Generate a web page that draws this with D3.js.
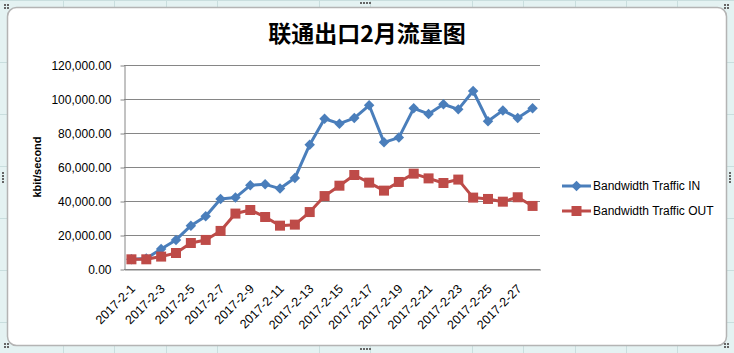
<!DOCTYPE html>
<html>
<head>
<meta charset="utf-8">
<script src="https://cdnjs.cloudflare.com/ajax/libs/d3/7.8.5/d3.min.js"></script>
<style>
  body { margin: 0; background: #e6f3f3; }
  text { font-family: "Liberation Sans", Arial, sans-serif; }
</style>
</head>
<body>
<div id="chart"></div>
<script>
var dates = d3.range(1, 29).map(d => "2017-2-" + d);

var trafficIn = [5800, 6200, 11800, 17100, 25500, 31000, 41200, 42000, 49200, 49800,
  47300, 53500, 73100, 88400, 85500, 88800, 96300, 74500, 77300, 94500,
  91200, 96900, 93900, 104700, 86900, 93300, 88800, 94500];

var trafficOut = [5700, 5700, 7300, 9400, 15300, 17100, 22400, 32600, 34700, 30600,
  25500, 26100, 33500, 42900, 49000, 55300, 50800, 46100, 51200, 56100,
  53300, 50600, 52600, 42000, 41200, 39600, 42200, 37100];

var yTicks = [0, 20000, 40000, 60000, 80000, 100000, 120000];

var seriesNames = ["Bandwidth Traffic IN", "Bandwidth Traffic OUT"];
var seriesColors = ["#4a7ebb", "#be4b48"];

var width = 734, height = 353;
var margin = {top: 65, right: 194, bottom: 84, left: 124};

var svg = d3.select("#chart").append("svg")
    .attr("width", width)
    .attr("height", height);

// spreadsheet background grid
var bg = svg.append("g");
bg.append("rect").attr("width", width).attr("height", height).attr("fill", "#e4f2f2");
[0, 62, 114, 166, 218, 270, 322, 374, 426, 478, 530, 582, 634, 686].forEach(y =>
  bg.append("line").attr("x1", 0).attr("x2", width).attr("y1", y + 0.5).attr("y2", y + 0.5)
    .attr("stroke", "#c9dede"));
[63, 114, 166, 217, 319, 370, 472, 523, 575, 626, 677].forEach(x =>
  bg.append("line").attr("y1", 0).attr("y2", height).attr("x1", x + 0.5).attr("x2", x + 0.5)
    .attr("stroke", "#c9dede"));

svg.append("rect")
    .attr("x", 7.5).attr("y", 7.5)
    .attr("width", 719).attr("height", 338)
    .attr("rx", 9)
    .attr("fill", "#fff")
    .attr("stroke", "#b4b4b4")
    .attr("stroke-width", 1.5);

// resize handles
[[4, 4], [724, 4], [4, 343], [724, 343]].forEach(p => {
  [[0, 0], [3, 0], [0, 3], [3, 3]].forEach(o =>
    svg.append("rect").attr("x", p[0] + o[0]).attr("y", p[1] + o[1])
      .attr("width", 2).attr("height", 2).attr("fill", "#666"));
});
[[360, 2], [360, 348], [2, 172], [729, 172]].forEach(p => {
  var horiz = p[1] < 10 || p[1] > 340;
  d3.range(4).forEach(i =>
    svg.append("rect")
      .attr("x", horiz ? p[0] + i * 3 : p[0])
      .attr("y", horiz ? p[1] : p[1] + i * 3)
      .attr("width", 2).attr("height", 2).attr("fill", "#666"));
});

var x = d3.scaleBand()
    .domain(dates)
    .range([margin.left, width - margin.right]);

var y = d3.scaleLinear()
    .domain([0, 120000])
    .range([height - margin.bottom, margin.top]);

// gridlines
svg.append("g")
  .selectAll("line")
  .data(yTicks)
  .join("line")
    .attr("x1", margin.left)
    .attr("x2", width - margin.right)
    .attr("y1", d => Math.round(y(d)) + 0.5)
    .attr("y2", d => Math.round(y(d)) + 0.5)
    .attr("stroke", "#868686");

var fmt = d3.format(",.2f");

var yAxis = svg.append("g")
    .attr("transform", `translate(${margin.left + 0.5},0.5)`)
    .call(d3.axisLeft(y).tickValues(yTicks).tickFormat(fmt).tickSizeInner(4).tickSizeOuter(0).tickPadding(9));
yAxis.select(".domain").attr("stroke", "#868686");
yAxis.selectAll(".tick line").attr("stroke", "#868686");
yAxis.selectAll("text").attr("font-size", 12).attr("fill", "#000")
    .style("font-family", "'Liberation Sans', Arial, sans-serif");

var xAxis = svg.append("g")
    .attr("transform", `translate(0.5,${height - margin.bottom + 0.5})`)
    .call(d3.axisBottom(x).tickValues(dates.filter((d, i) => i % 2 == 0)).tickSize(0).tickPadding(0));
xAxis.select(".domain").attr("stroke", "#868686");
xAxis.selectAll("text")
    .attr("font-size", 12.5)
    .attr("fill", "#000")
    .style("font-family", "'Liberation Sans', Arial, sans-serif")
    .style("text-anchor", "end")
    .attr("y", 0)
    .attr("dy", "0.35em")
    .attr("transform", "translate(1,17) rotate(-45)");

svg.append("text")
    .attr("transform", `translate(41,${(margin.top + height - margin.bottom) / 2}) rotate(-90)`)
    .attr("text-anchor", "middle")
    .attr("font-size", 11)
    .attr("font-weight", "bold")
    .text("kbit/second");

svg.append("text")
    .attr("x", 367)
    .attr("y", 42)
    .attr("text-anchor", "middle")
    .attr("font-size", 23)
    .attr("font-weight", "bold")
    .style("font-family", "'Noto Sans CJK SC', sans-serif")
    .text("联通出口2月流量图");

var cx = d => x(d) + x.bandwidth() / 2;
var line = d3.line().x((d, i) => cx(dates[i])).y(d => y(d));

var diamond = d3.symbol().type(d3.symbolDiamond2).size(70);
var square = d3.symbol().type(d3.symbolSquare).size(100);

function drawSeries(values, color, sym) {
  svg.append("path")
    .datum(values)
    .attr("fill", "none")
    .attr("stroke", color)
    .attr("stroke-width", 3)
    .attr("stroke-linejoin", "round")
    .attr("d", line);
  svg.append("g")
    .selectAll("path")
    .data(values)
    .join("path")
      .attr("transform", (d, i) => `translate(${cx(dates[i])},${y(d)})`)
      .attr("d", sym)
      .attr("fill", color);
}

drawSeries(trafficIn, seriesColors[0], diamond);
drawSeries(trafficOut, seriesColors[1], square);

// legend
var legend = svg.append("g").attr("transform", "translate(562,186)");
[0, 1].forEach(i => {
  var g = legend.append("g").attr("transform", `translate(0,${i * 25})`);
  g.append("line").attr("x1", 0).attr("x2", 29).attr("stroke", seriesColors[i]).attr("stroke-width", 3);
  g.append("path").attr("transform", "translate(14.5,0)")
    .attr("d", i == 0 ? diamond : square).attr("fill", seriesColors[i]);
  g.append("text").attr("x", 31).attr("y", 4).attr("font-size", 12).text(seriesNames[i]);
});
</script>
</body>
</html>
